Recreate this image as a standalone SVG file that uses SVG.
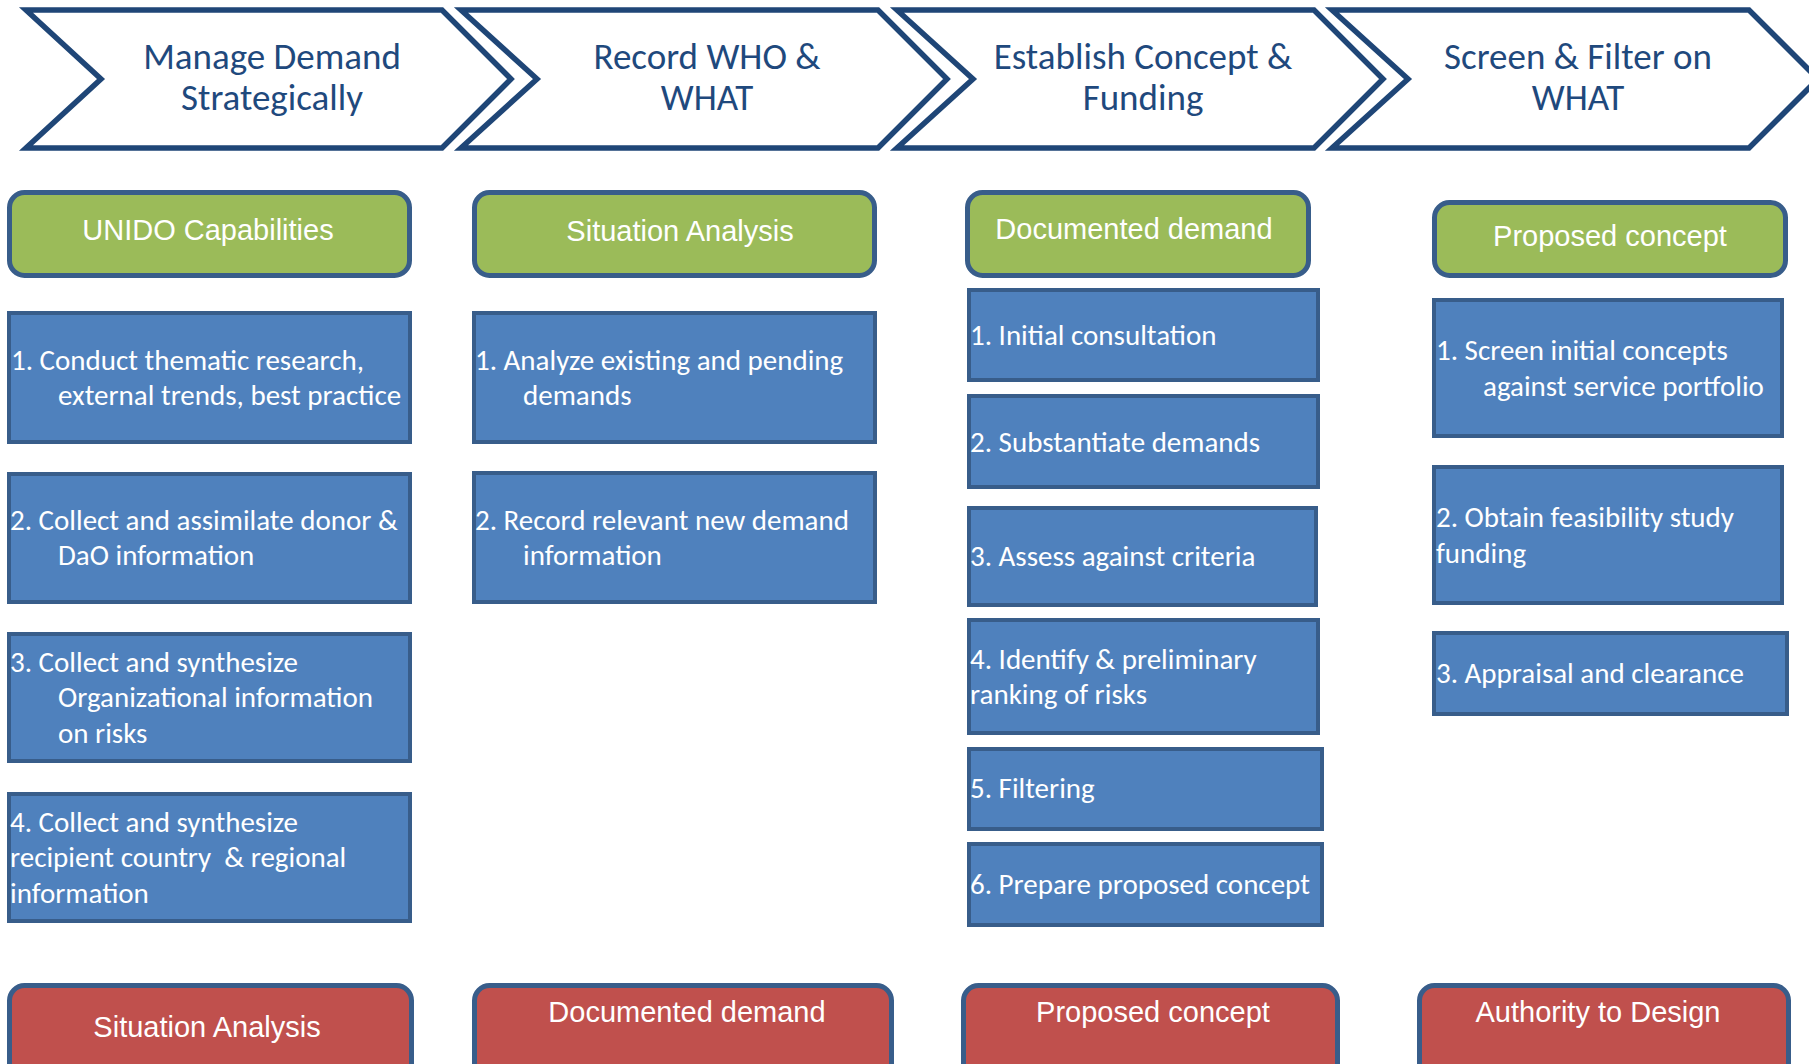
<svg xmlns="http://www.w3.org/2000/svg" width="1809" height="1064" viewBox="0 0 1809 1064">
<style>
.chev{fill:#FFFFFF;stroke:#1F4677;stroke-width:5.5;stroke-linejoin:miter}
.ct{font-family:Carlito,Lato,"Open Sans",sans-serif;font-size:37px;fill:#1F497D;text-anchor:middle}
.green{fill:#9BBB59;stroke:#385D8A;stroke-width:5}
.red{fill:#C0504D;stroke:#385D8A;stroke-width:5}
.blue{fill:#4F81BD;stroke:#385D8A;stroke-width:4}
.lt{font-family:"Liberation Sans",Arial,sans-serif;font-size:29px;fill:#FFFFFF;text-anchor:middle}
.bt{font-family:Carlito,Lato,"Open Sans",sans-serif;font-size:29px;fill:#FFFFFF}
</style>
<rect width="1809" height="1064" fill="#FFFFFF"/>
<g id="phase1"><path class="chev" d="M26,10 L442,10 L511,79 L442,148 L26,148 L101,79 Z"/><text class="ct" x="272" y="69">Manage Demand</text><text class="ct" x="272" y="110">Strategically</text></g>
<g id="phase2"><path class="chev" d="M461,10 L878,10 L947,79 L878,148 L461,148 L537,79 Z"/><text class="ct" x="707" y="69">Record WHO &amp;</text><text class="ct" x="707" y="110">WHAT</text></g>
<g id="phase3"><path class="chev" d="M897,10 L1314,10 L1383,79 L1314,148 L897,148 L973,79 Z"/><text class="ct" x="1143" y="69">Establish Concept &amp;</text><text class="ct" x="1143" y="110">Funding</text></g>
<g id="phase4"><path class="chev" d="M1332,10 L1749,10 L1818,79 L1749,148 L1332,148 L1408,79 Z"/><text class="ct" x="1578" y="69">Screen &amp; Filter on</text><text class="ct" x="1578" y="110">WHAT</text></g>

<g id="in1"><rect class="green" x="9.5" y="192.5" width="400" height="83" rx="15"/><text class="lt" x="208" y="240">UNIDO Capabilities</text></g>
<g id="in2"><rect class="green" x="474.5" y="192.5" width="400" height="83" rx="15"/><text class="lt" x="680" y="241">Situation Analysis</text></g>
<g id="in3"><rect class="green" x="967.5" y="192.5" width="341" height="83" rx="15"/><text class="lt" x="1134" y="239">Documented demand</text></g>
<g id="in4"><rect class="green" x="1434.5" y="202.5" width="351" height="73" rx="15"/><text class="lt" x="1610" y="246">Proposed concept</text></g>

<g id="c1s1"><rect class="blue" x="9" y="313" width="401" height="129"/><text class="bt" x="11" y="370">1. Conduct thematic research,</text><text class="bt" x="58" y="405">external trends, best practice</text></g>
<g id="c1s2"><rect class="blue" x="9" y="474" width="401" height="128"/><text class="bt" x="10" y="530">2. Collect and assimilate donor &amp;</text><text class="bt" x="58" y="565">DaO information</text></g>
<g id="c1s3"><rect class="blue" x="9" y="634" width="401" height="127"/><text class="bt" x="10" y="672">3. Collect and synthesize</text><text class="bt" x="58" y="707">Organizational information</text><text class="bt" x="58" y="743">on risks</text></g>
<g id="c1s4"><rect class="blue" x="9" y="794" width="401" height="127"/><text class="bt" x="10" y="832">4. Collect and synthesize</text><text class="bt" x="10" y="867" xml:space="preserve">recipient country  &amp; regional</text><text class="bt" x="10" y="903">information</text></g>

<g id="c2s1"><rect class="blue" x="474" y="313" width="401" height="129"/><text class="bt" x="475" y="370">1. Analyze existing and pending</text><text class="bt" x="523" y="405">demands</text></g>
<g id="c2s2"><rect class="blue" x="474" y="473" width="401" height="129"/><text class="bt" x="475" y="530">2. Record relevant new demand</text><text class="bt" x="523" y="565">information</text></g>

<g id="c3s1"><rect class="blue" x="969" y="290" width="349" height="90"/><text class="bt" x="970" y="345">1. Initial consultation</text></g>
<g id="c3s2"><rect class="blue" x="969" y="396" width="349" height="91"/><text class="bt" x="970" y="452">2. Substantiate demands</text></g>
<g id="c3s3"><rect class="blue" x="969" y="508" width="347" height="97"/><text class="bt" x="970" y="566">3. Assess against criteria</text></g>
<g id="c3s4"><rect class="blue" x="969" y="620" width="349" height="113"/><text class="bt" x="970" y="669">4. Identify &amp; preliminary</text><text class="bt" x="970" y="704">ranking of risks</text></g>
<g id="c3s5"><rect class="blue" x="969" y="749" width="353" height="80"/><text class="bt" x="970" y="798">5. Filtering</text></g>
<g id="c3s6"><rect class="blue" x="969" y="844" width="353" height="81"/><text class="bt" x="970" y="894">6. Prepare proposed concept</text></g>

<g id="c4s1"><rect class="blue" x="1434" y="300" width="348" height="136"/><text class="bt" x="1436" y="360">1. Screen initial concepts</text><text class="bt" x="1483" y="396">against service portfolio</text></g>
<g id="c4s2"><rect class="blue" x="1434" y="467" width="348" height="136"/><text class="bt" x="1436" y="527">2. Obtain feasibility study</text><text class="bt" x="1436" y="563">funding</text></g>
<g id="c4s3"><rect class="blue" x="1434" y="633" width="353" height="81"/><text class="bt" x="1436" y="683">3. Appraisal and clearance</text></g>

<g id="out1"><rect class="red" x="9.5" y="985.5" width="402" height="110" rx="15"/><text class="lt" x="207" y="1037">Situation Analysis</text></g>
<g id="out2"><rect class="red" x="474.5" y="985.5" width="417" height="110" rx="15"/><text class="lt" x="687" y="1022">Documented demand</text></g>
<g id="out3"><rect class="red" x="963.5" y="985.5" width="374" height="110" rx="15"/><text class="lt" x="1153" y="1022">Proposed concept</text></g>
<g id="out4"><rect class="red" x="1419.5" y="985.5" width="369" height="110" rx="15"/><text class="lt" x="1598" y="1022">Authority to Design</text></g>
<g id="connectors"></g>
</svg>
